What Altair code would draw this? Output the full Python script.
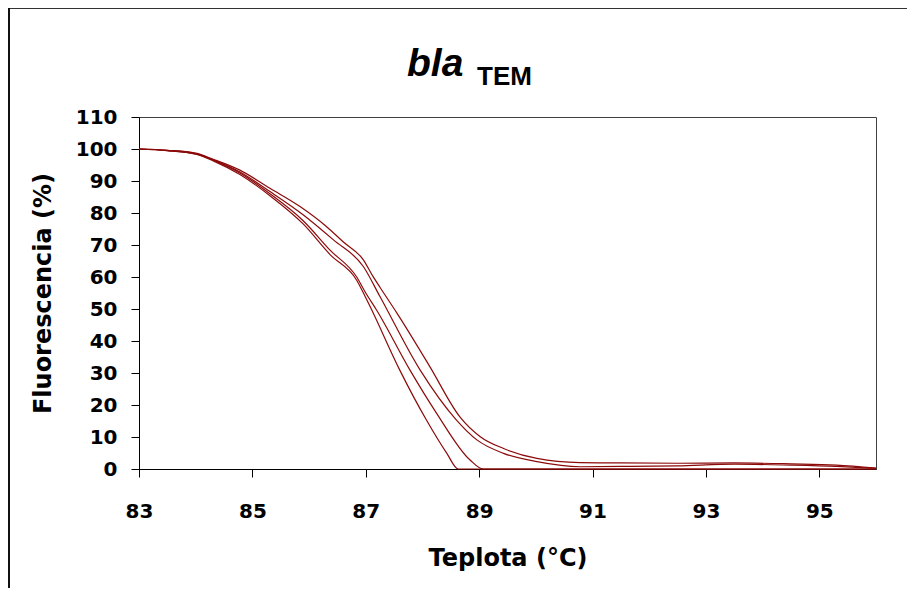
import altair as alt
import pandas as pd

# ---- data (temperature °C, fluorescence %) ----
c1_t = [83.0, 83.5, 84.0, 84.31, 84.78, 85.31, 85.84, 86.31, 86.6, 86.96, 87.13, 87.25, 87.55,
        88.13, 88.66, 89.02, 89.43, 90.02, 90.78, 91.5, 92.5, 93.5, 94.5, 95.3, 96.0]
c1_f = [100, 99.6, 98.7, 96.8, 93.4, 87.7, 82.0, 75.7, 71.0, 65.3, 60.1, 56.8, 48.7,
        32.0, 16.3, 10.1, 6.4, 3.3, 2.0, 1.9, 1.8, 1.9, 1.6, 1.2, 0.3]

c2_t = [83.0, 83.5, 84.0, 84.31, 84.78, 85.31, 85.9, 86.43, 86.96, 87.25, 87.96, 88.6, 88.96,
        89.43, 90.02, 90.78, 91.5, 92.5, 93.5, 94.5, 95.3, 96.0]
c2_f = [100, 99.6, 98.6, 96.6, 92.8, 86.7, 79.4, 71.6, 63.2, 53.9, 30.9, 15.3, 9.1,
        4.9, 2.3, 0.7, 0.8, 1.0, 1.5, 1.2, 0.8, 0.2]

c3_t = [83.0, 83.5, 84.0, 84.31, 84.78, 85.31, 85.9, 86.37, 86.84, 87.0, 87.19, 87.78, 88.25,
        88.84, 89.07, 96.0]
c3_f = [100, 99.5, 98.5, 96.5, 92.5, 86.0, 77.5, 68.4, 60.0, 55.0, 49.7, 30.9, 17.4,
        2.8, 0, 0]

c4_t = [83.0, 83.5, 84.0, 84.31, 84.78, 85.31, 85.9, 86.37, 86.84, 87.0, 87.07, 87.6, 88.07,
        88.43, 88.63, 96.0]
c4_f = [100, 99.5, 98.4, 96.3, 92.0, 85.4, 76.5, 67.0, 59.0, 53.5, 51.0, 30.9, 15.3,
        4.9, 0, 0]

x_ticks = [83, 85, 87, 89, 91, 93, 95]
y_ticks = [0, 10, 20, 30, 40, 50, 60, 70, 80, 90, 100, 110]
title_main = ["bla"]
title_sub = ["TEM"]
x_title = "Teplota (°C)"
y_title = "Fluorescencia (%)"

rows = []
for name, ts, fs in [("c1", c1_t, c1_f), ("c2", c2_t, c2_f), ("c3", c3_t, c3_f), ("c4", c4_t, c4_f)]:
    for i, (t, f) in enumerate(zip(ts, fs)):
        rows.append({"series": name, "order": i, "temp": t, "fluor": f})
df = pd.DataFrame(rows)

W, H = 737, 352
RED = "#8B0A0A"
AXIS_FONT = "DejaVu Sans"

lines = alt.Chart(df).mark_line(color=RED, strokeWidth=1.2, interpolate="monotone").encode(
    x=alt.X("temp:Q",
            scale=alt.Scale(domain=[83, 96], nice=False, zero=False),
            axis=alt.Axis(values=x_ticks, title=x_title, tickSize=8, labelPadding=24,
                          labelFontSize=20, labelFont=AXIS_FONT, labelFontWeight="bold",
                          titleFontSize=24, titleFont=AXIS_FONT, titleFontWeight="bold",
                          titleBaseline="alphabetic", titleY=96, titleAnchor="middle",
                          labelFlush=False)),
    y=alt.Y("fluor:Q",
            scale=alt.Scale(domain=[0, 110], nice=False),
            axis=alt.Axis(values=y_ticks, title=y_title, tickSize=8, labelPadding=14,
                          labelFontSize=20, labelFont=AXIS_FONT, labelFontWeight="bold",
                          titleFontSize=24, titleFont=AXIS_FONT, titleFontWeight="bold",
                          titleAngle=-90, titleBaseline="alphabetic", titleX=-89, titleY=H / 2,
                          titleAlign="center", labelFlush=False)),
    detail="series:N",
    order="order:Q",
)

t_main = alt.Chart(pd.DataFrame({"label": title_main})).mark_text(
    align="left", baseline="alphabetic", font="Liberation Sans", fontWeight="bold",
    fontStyle="italic", fontSize=39, color="black"
).encode(x=alt.value(268), y=alt.value(-41), text="label:N")

t_sub = alt.Chart(pd.DataFrame({"label": title_sub})).mark_text(
    align="left", baseline="alphabetic", font="Liberation Sans", fontWeight="bold",
    fontSize=26, color="black"
).encode(x=alt.value(338), y=alt.value(-32), text="label:N")

frame_top = alt.Chart(pd.DataFrame({"k": [0]})).mark_rule(color="#333333", strokeWidth=2).encode(
    x=alt.value(-131), x2=alt.value(768), y=alt.value(-109))
frame_left = alt.Chart(pd.DataFrame({"k": [0]})).mark_rule(color="#111111", strokeWidth=2).encode(
    x=alt.value(-130), y=alt.value(-110), y2=alt.value(471))

chart = alt.layer(lines, t_main, t_sub, frame_top, frame_left).properties(
    width=W, height=H,
    autosize=alt.AutoSizeParams(type="none"),
    padding={"left": 131, "top": 109, "right": 31, "bottom": 119},
    background="white",
).configure_view(
    stroke="#404040", strokeWidth=1
).configure_axis(
    grid=False, domainColor="black", tickColor="black", labelColor="black",
    titleColor="black", domainWidth=1, tickWidth=1
)

chart.save("out.html", embed_options={"renderer": "svg", "actions": False})
